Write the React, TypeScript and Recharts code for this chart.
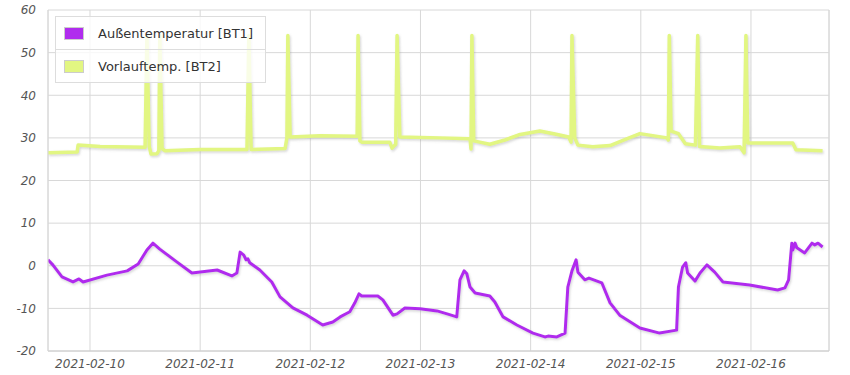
import React from "react";
import { LineChart, Line, XAxis, YAxis, CartesianGrid, ReferenceLine } from "recharts";

// hours since 2021-02-10 00:00
const bt1Hours = [
  -9.15, -8.1, -6.1, -3.7, -2.4, -1.5, 3.7, 8.1, 10.5, 12.4, 13.7, 15.2, 18.9, 22.2, 27.7, 30.9, 32.0,
  32.7, 33.5, 34.0, 34.4, 34.8, 37.0, 39.6, 41.4, 44.2, 47.3, 50.7, 52.9, 54.5, 56.6, 57.7, 58.6, 59.2,
  62.7, 63.8, 66.0, 66.9, 68.6, 71.9, 75.6, 77.8, 79.9, 80.6, 81.5, 82.1, 82.8, 83.9, 87.1, 88.2, 90.0,
  93.0, 96.5, 99.1, 99.8, 101.7, 103.5, 104.1, 105.0, 105.9, 106.3, 107.8, 108.7, 111.5, 113.3, 115.4,
  119.8, 124.1, 127.8, 128.2, 129.1, 129.8, 130.2, 131.8, 132.9, 134.4, 136.1, 137.9, 143.7, 149.8,
  151.4, 152.2, 152.9, 153.1, 153.6, 154.0, 155.7, 157.3, 157.9, 158.6, 159.6,
];
const bt1Values = [
  1.4, 0.2, -2.6, -3.8, -3.1, -3.8, -2.2, -1.2, 0.4, 3.7, 5.3, 3.9, 0.9, -1.7, -1.0, -2.4, -1.7,
  3.2, 2.5, 1.4, 1.6, 0.7, -1.0, -3.8, -7.3, -9.9, -11.6, -13.9, -13.2, -12.0, -10.8, -8.7, -6.6, -7.1,
  -7.1, -8.0, -11.6, -11.3, -9.9, -10.1, -10.6, -11.3, -12.0, -3.3, -1.2, -1.9, -5.0, -6.4, -7.1, -8.5, -12.0,
  -13.9, -15.8, -16.7, -16.5, -16.7, -15.8, -5.0, -1.2, 1.4, -1.5, -3.3, -2.9, -4.0, -8.7, -11.6,
  -14.6, -15.8, -15.1, -5.0, -0.3, 0.7, -1.7, -3.6, -1.7, 0.2, -1.5, -3.8, -4.5, -5.7,
  -5.2, -3.3, 5.3, 3.7, 5.3, 4.2, 3.0, 5.3, 4.9, 5.3, 4.4,
];

const bt2Hours = [
  -9.15, -2.8, -2.6, 2.2, 12.0, 12.4, 12.9, 13.3, 14.6, 15.0, 15.2, 15.7, 16.3, 24.0, 34.2, 34.6, 35.1,
  42.5, 42.9, 43.1, 43.6, 50.1, 58.2, 58.4, 58.8, 59.2, 65.3, 65.8, 66.6, 66.9, 67.5, 76.2, 82.8, 83.0,
  83.2, 83.6, 84.9, 87.1, 90.4, 93.7, 98.0, 101.3, 104.3, 104.8, 105.0, 105.6, 106.3, 109.5, 113.3,
  116.5, 119.8, 125.7, 126.0, 126.2, 126.6, 128.2, 129.7, 131.9, 132.4, 132.8, 137.2, 141.6, 142.5,
  142.9, 143.3, 153.1, 153.8, 159.6,
];
const bt2Values = [
  26.5, 26.7, 28.3, 28.0, 27.8, 54, 28.0, 26.2, 26.3, 27.0, 54, 27.5, 27.0, 27.3, 27.3, 54, 27.3,
  27.5, 30.0, 54, 30.2, 30.5, 30.4, 54, 29.3, 29.0, 29.0, 27.6, 28.5, 54, 30.2, 30.0, 29.8, 27.4,
  54, 29.3, 29.0, 28.5, 29.5, 30.8, 31.6, 30.9, 30.2, 29.0, 54, 30.0, 28.3, 27.9, 28.2,
  29.6, 31.0, 30.0, 29.5, 54, 31.6, 31.0, 28.6, 28.3, 54, 28.0, 27.6, 27.9, 26.5,
  54, 28.8, 28.8, 27.2, 27.0,
];

const seriesNames = ["Außentemperatur [BT1]", "Vorlauftemp. [BT2]"];
const seriesColors = ["#b02cee", "#e2f682"];
const dayTicks = [0, 24, 48, 72, 96, 120, 144];
const dayLabels = ["2021-02-10", "2021-02-11", "2021-02-12", "2021-02-13", "2021-02-14", "2021-02-15", "2021-02-16"];
const yTicks = [-20, -10, 0, 10, 20, 30, 40, 50, 60];
const xDomain = [-9.15, 161.0];

const bt1Data = bt1Hours.map((h, i) => ({ h, v: bt1Values[i] }));
const bt2Data = bt2Hours.map((h, i) => ({ h, v: bt2Values[i] }));

const tickStyle = { fill: "#555", fontSize: 12, fontStyle: "italic", fontFamily: "DejaVu Sans" };

const ChartLegend = () => (
  <div
    style={{
      position: "absolute",
      left: 55,
      top: 16,
      width: 209,
      border: "1px solid #ddd",
      background: "rgba(255,255,255,0.8)",
      fontFamily: "DejaVu Sans",
      fontSize: 13,
      color: "#333",
    }}
  >
    {seriesNames.map((name, i) => (
      <div
        key={name}
        style={{
          display: "flex",
          alignItems: "center",
          height: 32,
          borderTop: i > 0 ? "1px solid #ddd" : "none",
        }}
      >
        <div
          style={{
            width: 18,
            height: 11,
            marginLeft: 8,
            marginRight: 14,
            background: seriesColors[i],
            border: "1px solid #ccc",
          }}
        />
        <span>{name}</span>
      </div>
    ))}
  </div>
);

export default function App() {
  return (
    <div style={{ position: "absolute", left: 0, top: 0, width: 850, height: 375, background: "#fff" }}>
      <LineChart width={850} height={375} margin={{ top: 10, right: 21, left: 0, bottom: 0 }}>
        <defs>
          <filter id="shadow" x="-5%" y="-5%" width="110%" height="120%">
            <feDropShadow dx="1" dy="1.5" stdDeviation="1" floodColor="#888" floodOpacity="0.35" />
          </filter>
        </defs>
        <CartesianGrid stroke="#d8d8d8" />
        <XAxis
          dataKey="h"
          type="number"
          domain={xDomain}
          ticks={dayTicks}
          tickFormatter={(h: number) => dayLabels[dayTicks.indexOf(h)]}
          allowDataOverflow
          height={24}
          tickLine={false}
          tickSize={0}
          tickMargin={8}
          axisLine={{ stroke: "#ccc" }}
          tick={tickStyle}
        />
        <YAxis
          type="number"
          domain={[-20, 60]}
          ticks={yTicks}
          width={48}
          tickLine={false}
          tickSize={0}
          tickMargin={12}
          axisLine={{ stroke: "#d8d8d8" }}
          tick={tickStyle}
        />
        <ReferenceLine x={xDomain[1]} stroke="#d8d8d8" />
        <Line
          data={bt2Data}
          dataKey="v"
          type="linear"
          stroke={seriesColors[1]}
          strokeWidth={3.5}
          dot={false}
          activeDot={false}
          isAnimationActive={false}
          filter="url(#shadow)"
          strokeLinejoin="round"
        />
        <Line
          data={bt1Data}
          dataKey="v"
          type="linear"
          stroke={seriesColors[0]}
          strokeWidth={3}
          dot={false}
          activeDot={false}
          isAnimationActive={false}
          filter="url(#shadow)"
          strokeLinejoin="round"
        />
      </LineChart>
      <ChartLegend />
    </div>
  );
}
